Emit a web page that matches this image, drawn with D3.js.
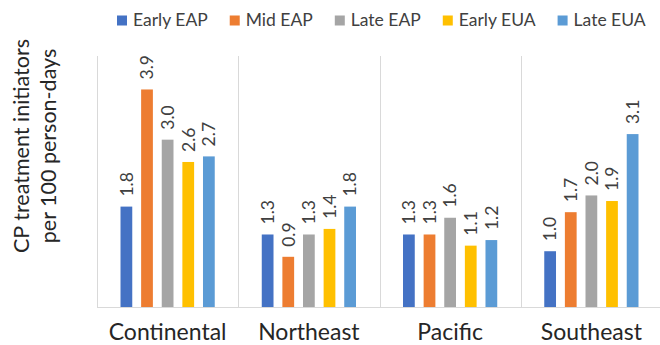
<!DOCTYPE html>
<html>
<head>
<meta charset="utf-8">
<script src="https://cdn.jsdelivr.net/npm/d3@7"></script>
<style>
  html, body { margin: 0; padding: 0; background: #fff; }
  svg { display: block; font-family: Lato, "Open Sans", sans-serif; }
</style>
</head>
<body>
<svg id="chart" width="660" height="345"></svg>
<script>
// Regions along the x axis
const regions = ["Continental", "Northeast", "Pacific", "Southeast"];
// Treatment periods (one bar each per region)
const periods = ["Early EAP", "Mid EAP", "Late EAP", "Early EUA", "Late EUA"];
const periodColors = ["#4472C4", "#ED7D31", "#A5A5A5", "#FFC000", "#5B9BD5"];
// Initiators per 100 person-days, one array per period, in region order
const earlyEAP = [1.8, 1.3, 1.3, 1.0];
const midEAP   = [3.9, 0.9, 1.3, 1.7];
const lateEAP  = [3.0, 1.3, 1.6, 2.0];
const earlyEUA = [2.6, 1.4, 1.1, 1.9];
const lateEUA  = [2.7, 1.8, 1.2, 3.1];
const seriesValues = [earlyEAP, midEAP, lateEAP, earlyEUA, lateEUA];
const yMax = 4.5;
const yTitleLines = ["CP treatment initiators", "per 100 person-days"];

const svg = d3.select("#chart");
const plot = { left: 97, right: 662, top: 56, bottom: 307 };

const x0 = d3.scaleBand().domain(regions).range([plot.left, plot.right]).padding(0);
const x1 = d3.scaleBand().domain(periods).range([0, x0.bandwidth()])
  .paddingInner(0.43).paddingOuter(1.14);
const y = d3.scaleLinear().domain([0, yMax]).range([plot.bottom, plot.top]);
const color = d3.scaleOrdinal().domain(periods).range(periodColors);

// Category separators
svg.append("g").selectAll("line")
  .data(regions.concat(["__end"]))
  .join("line")
  .attr("x1", (d, i) => Math.round(plot.left + i * x0.bandwidth()) + 0.5)
  .attr("x2", (d, i) => Math.round(plot.left + i * x0.bandwidth()) + 0.5)
  .attr("y1", plot.top)
  .attr("y2", plot.bottom)
  .attr("stroke", "#d9d9d9")
  .attr("stroke-width", 1);

// Bars
const rows = [];
regions.forEach((r, ri) => periods.forEach((p, pi) => rows.push({ region: r, period: p, value: seriesValues[pi][ri] })));

const g = svg.append("g");
g.selectAll("rect")
  .data(rows)
  .join("rect")
  .attr("x", d => x0(d.region) + x1(d.period))
  .attr("y", d => y(d.value))
  .attr("width", x1.bandwidth())
  .attr("height", d => y(0) - y(d.value))
  .attr("fill", d => color(d.period));

// Value labels, rotated
g.selectAll("text.val")
  .data(rows)
  .join("text")
  .attr("class", "val")
  .attr("transform", d => {
    const cx = x0(d.region) + x1(d.period) + x1.bandwidth() / 2;
    return `translate(${cx},${y(d.value) - 10}) rotate(-90)`;
  })
  .attr("dy", "0.36em")
  .attr("text-anchor", "start")
  .attr("font-size", 17.5)
  .attr("fill", "#404040")
  .text(d => d.value.toFixed(1));

// Baseline axis
const xAxis = d3.axisBottom(x0).tickSize(0).tickPadding(0);
const ax = svg.append("g").attr("transform", `translate(0,${plot.bottom})`).call(xAxis);
ax.select(".domain").attr("stroke", "#d9d9d9").attr("d", `M${plot.left},0.5H660`);
ax.selectAll("text")
  .attr("font-size", 23)
  .attr("font-family", "Lato, 'Open Sans', sans-serif")
  .attr("fill", "#262626")
  .attr("y", 33)
  .attr("dy", 0);

// Y-axis title
const yt = svg.append("text")
  .attr("transform", "translate(29,146) rotate(-90)")
  .attr("text-anchor", "middle")
  .attr("font-size", 21.5)
  .attr("fill", "#262626");
yt.selectAll("tspan")
  .data(yTitleLines)
  .join("tspan")
  .attr("x", 0)
  .attr("dy", (d, i) => i === 0 ? 0 : 27)
  .text(d => d);

// Legend
const legend = svg.append("g").attr("font-size", 17.5).attr("fill", "#404040");
const items = legend.selectAll("g").data(periods).join("g");
items.append("rect").attr("width", 10).attr("height", 10).attr("y", -10).attr("fill", d => color(d));
items.append("text").attr("x", 16).attr("y", 0).text(d => d);
let cursor = 0;
const gap = 22;
items.each(function () {
  const w = 16 + d3.select(this).select("text").node().getComputedTextLength();
  d3.select(this).attr("transform", `translate(${cursor},25.5)`);
  cursor += w + gap;
});
const legendWidth = cursor - gap;
legend.attr("transform", `translate(${Math.round(123 + (640 - 123 - legendWidth) / 2)},0)`);
</script>
</body>
</html>
